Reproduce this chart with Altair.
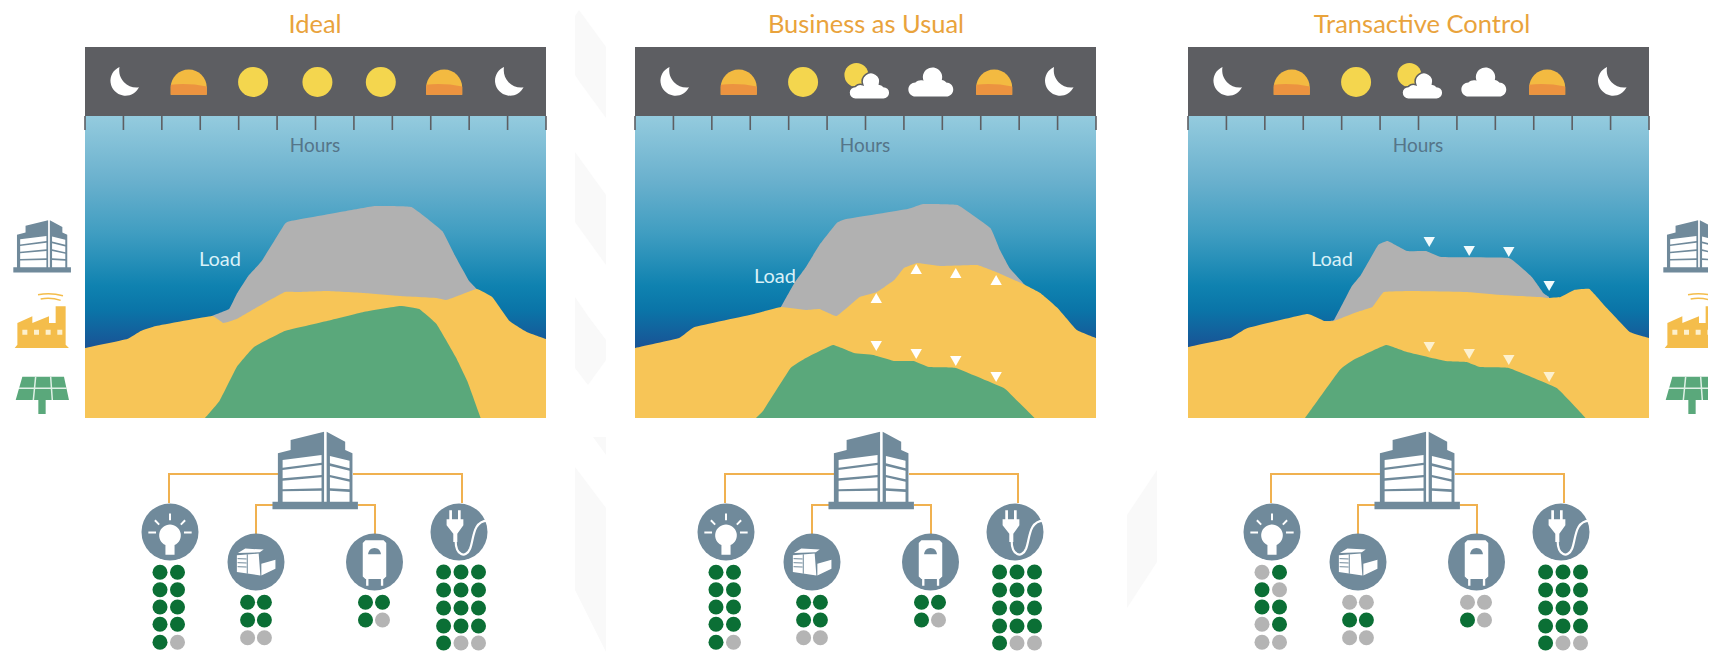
import altair as alt
import pandas as pd

# ---------- values (x in hours, y in load units above the panel floor)
HOURS = [0, 2, 4, 6, 8, 10, 12, 14, 16, 18, 20, 22, 24]
PANELS = ["Ideal", "Business as Usual", "Transactive Control"]
PANEL_LEFT = [85, 635, 1188]
PANEL_W = 461
TITLE_X = [315, 866, 1422]
LOAD_X = [220, 775, 1332]
LOAD_Y = [260, 277, 260]
BOTTOM_SHIFT = [0, 556, 1102]

sup_h = [[0, 2.2, 2.9, 3.7, 6.6, 7.2, 7.9, 8.8, 10.4, 11.1, 12.6, 14.5, 16.4, 18.3, 18.8, 19.4, 20.4, 21.2, 22.1, 23, 24],
         [0, 2.3, 3.1, 6.2, 7.6, 8.9, 9.6, 10.5, 11.7, 12.6, 13.5, 14, 14.7, 15.9, 17.8, 18.8, 20.1, 21.1, 22, 23, 24],
         [0, 2.2, 3.1, 6.2, 7.1, 7.6, 8.8, 9.6, 10.2, 11.7, 14.5, 16.3, 18.3, 18.7, 19.4, 20.1, 20.9, 21.8, 23, 24]]
sup_v = [[70, 79, 87, 92, 102, 95, 99, 109, 126, 126, 127, 125, 122, 120, 118, 122, 129, 121, 97, 86, 79],
         [70, 80, 91, 104, 111, 108, 109, 102, 121, 126, 138, 150, 155, 152, 153, 146, 135, 125, 110, 88, 80],
         [71, 80, 90, 104, 97, 97, 106, 111, 126, 127, 126, 123, 121, 120, 121, 128, 129, 110, 86, 80]]
load_h = [[6.6, 7.5, 7.9, 8.5, 9.2, 10.4, 10.7, 13.6, 15.1, 17, 18.6, 19.3, 20, 20.4],
          [7.6, 8.3, 8.9, 9.6, 10.5, 11, 14.2, 15, 16.8, 18.5, 19, 19.5, 20.3],
          [7.1, 7.6, 8.5, 9, 9.9, 10.4, 11.4, 12.4, 13.2, 16.7, 17.9, 18.5, 18.8]]
load_v = [[102, 109, 124, 142, 157, 194, 197, 207, 212, 211, 187, 161, 137, 129],
          [111, 135, 151, 173, 195, 199, 209, 214, 213, 190, 168, 150, 133],
          [97, 98, 131, 143, 173, 177, 167, 167, 161, 160, 141, 125, 121]]
pv_h = [[6.25, 7, 7.9, 8.8, 10.4, 12.6, 14.5, 16.4, 17.4, 18.3, 19.3, 19.9, 20.6],
        [6.3, 6.7, 8.1, 8.9, 10.3, 11.4, 12.4, 13.5, 14.5, 15.3, 16.7, 19.2, 19.7, 20.8],
        [6.1, 7.9, 8.6, 10.3, 11.4, 13.4, 14.5, 15.2, 16.7, 19.2, 20.7]]
pv_v = [[0, 17, 51, 71, 87, 97, 106, 112, 109, 94, 61, 37, 0],
        [0, 8, 50, 60, 73, 65, 63, 57, 57, 51, 50, 30, 21, 0],
        [0, 48, 58, 73, 66, 57, 56, 51, 50, 30, 0]]

tri_h = [12.56, 14.64, 16.7, 18.8]
tri_up_p2 = [120, 149, 145, 138]
tri_dn_p2 = [72, 64, 57, 41]
tri_top_p3 = [176, 167, 166, 132]
tri_dn_p3 = [71, 64, 58, 41]

SKY_H = [2.03, 5.4, 8.75, 12.1, 15.4, 18.7, 22.05]
SKY_ICONS = [["moon", "half", "sun", "sun", "sun", "half", "moon"],
             ["moon", "half", "sun", "partly", "cloud", "half", "moon"],
             ["moon", "half", "sun", "partly", "cloud", "half", "moon"]]

# device groups: column x, row y, states per row (G on, g off) for each panel
DOT_X = [[160, 177.5], [247.6, 264.4], [365.5, 382.5], [443.6, 461, 478.5]]
DOT_Y = [[572.3, 589.7, 607, 624.3, 642.3], [602.3, 620, 637.7], [602.3, 620], [572, 590, 608, 626, 643]]
DOTS = [[["GG", "GG", "GG", "GG", "Gg"], ["GG", "GG", "gg"], ["GG", "Gg"], ["GGG", "GGG", "GGG", "GGG", "Ggg"]],
        [["GG", "GG", "GG", "GG", "Gg"], ["GG", "GG", "gg"], ["GG", "Gg"], ["GGG", "GGG", "GGG", "GGG", "Ggg"]],
        [["gG", "Gg", "GG", "gG", "gg"], ["gg", "GG", "gg"], ["gg", "Gg"], ["GGG", "GGG", "GGG", "GGG", "Ggg"]]]

STRIPE_X = [[575, 579, 606], [575, 606], [575, 588, 606], [593, 606], [575, 606], [1127, 1157]]
STRIPE_T = [[16, 10, 47], [152, 195], [297, 316, 340], [437, 437], [467, 508], [515, 470]]
STRIPE_B = [[75, 81, 118], [222, 265], [368, 385, 360], [437, 455], [590, 652], [608, 562]]

# ---------- colours
ORANGE = "#e9a33c"; DARK = "#5d5e62"; SLATE = "#708a9b"; GREY = "#b1b1b1"; YEL = "#f7c557"; GRN = "#5aa87b"
DOT_C = {"G": "#0b6f35", "g": "#b4b4b4"}
FLOOR = 418

XS = alt.Scale(domain=[8, 1708], range=[0, 1700], nice=False, zero=False)
YS = alt.Scale(domain=[8, 652], range=[0, 644], nice=False, zero=False)
X = lambda f="x": alt.X(f + ":Q", scale=XS, axis=None)
Y = lambda f="y": alt.Y(f + ":Q", scale=YS, axis=None)


def hx(p, h):
    return PANEL_LEFT[p] + h * PANEL_W / 24


def zp(polys, cx, cy, half):
    out = []
    for poly in polys:
        c = " L".join(f"{(a - cx) / half:.3f},{(b - cy) / half:.3f}" for a, b in poly)
        out.append("M" + c + " Z")
    return " ".join(out)


def icon(path, pts, w, fill=None, stroke=None, sw=0):
    kw = dict(shape=path, size=w * w, opacity=1, filled=fill is not None, strokeWidth=sw)
    if fill:
        kw["fill"] = fill
    if stroke:
        kw["stroke"] = stroke
    df = pd.DataFrame(pts, columns=["x", "y"])
    return alt.Chart(df).mark_point(**kw).encode(x=X(), y=Y())


# ---------- shape paths
MOON = "M-0.3,-1 A1,1 0 1 0 1,0.35 A1.15,1.15 0 0 1 -0.3,-1 Z"
HALF = "M-1,0.71 L-1,0.3 A1,1 0 0 1 1,0.3 L1,0.71 Z"
BAND = "M-1,0.71 L-1,0.15 Q0,0.05 1,0.25 L1,0.71 Z"
CLOUD = ("M-0.7,0.66 A0.32,0.32 0 0 1 -0.7,0.02 A0.36,0.36 0 0 1 -0.33,-0.06 "
         "A0.44,0.44 0 1 1 0.5,-0.09 A0.3,0.3 0 0 1 0.7,0.02 A0.32,0.32 0 0 1 0.7,0.66 Z")

# building drawn on a 2.75 x 3 zoom grid, brought to a square grid
def bpts(q):
    return [((a - 867) / 2.75, (b - 150) / 3) for a, b in q]
BUILD_BODY = zp([bpts([(765, 245), (765, 100), (800, 90), (800, 60), (892, 35), (892, 245)]),
                 bpts([(899, 35), (950, 65), (950, 90), (970, 100), (970, 245), (899, 245)]),
                 bpts([(750, 245), (985, 245), (985, 268), (750, 268)])], 0, 0, 43)
BUILD_WIN = zp([bpts(q) for q in [
    [(778, 120), (885, 105), (885, 128), (778, 143)], [(778, 150), (885, 135), (885, 165), (778, 175)],
    [(778, 182), (885, 172), (885, 205), (778, 208)], [(778, 214), (885, 212), (885, 245), (778, 245)],
    [(908, 108), (962, 122), (962, 145), (908, 130)], [(908, 138), (962, 152), (962, 178), (908, 165)],
    [(908, 172), (962, 185), (962, 208), (908, 205)], [(908, 212), (962, 216), (962, 245), (908, 245)]]], 0, 0, 43)

FAC = (124, 340, 82)
FACTORY = zp([[(42, 415), (50, 405), (50, 340), (95, 320), (95, 340), (145, 320), (145, 340), (165, 340), (165, 290),
               (195, 290), (195, 405), (205, 415)]], *FAC)
FAC_WIN = zp([[(a, 360), (a + 15, 360), (a + 15, 375), (a, 375)] for a in (65, 100, 135, 170)], *FAC)
def nz(x, y, c=FAC):
    return f"{(x - c[0]) / c[2]:.3f},{(y - c[1]) / c[2]:.3f}"
SMOKE = f"M{nz(112, 255)} Q{nz(150, 248)} {nz(187, 258)} M{nz(120, 268)} Q{nz(150, 262)} {nz(180, 272)}"

SOL = (124, 555, 82)
SOLAR = zp([[(65, 500), (190, 500), (205, 570), (45, 570)], [(113, 570), (135, 570), (135, 612), (113, 612)]], *SOL)
SOL_GRID = (f"M{nz(55, 535, SOL)} L{nz(198, 535, SOL)} M{nz(105, 500, SOL)} L{nz(98, 570, SOL)} "
            f"M{nz(150, 500, SOL)} L{nz(155, 570, SOL)}")

BULB = "M-0.16,0.46 A0.38,0.38 0 1 1 0.16,0.46 L0.16,0.8 L-0.16,0.8 Z"
RAYS = "M0,-0.65 L0,-0.41 M-0.53,-0.41 L-0.38,-0.26 M0.53,-0.41 L0.38,-0.26 M-0.76,0.02 L-0.49,0.02 M0.76,0.02 L0.49,0.02"
COP = (92, 95, 85)
COPIER = zp([[(35, 75), (100, 70), (105, 135), (35, 125)], [(108, 100), (150, 88), (150, 115), (108, 135)],
             [(38, 68), (60, 55), (115, 58), (103, 66)]], *COP)
COP_LINES = " ".join(f"M{nz(37, y, COP)} L{nz(64, y + 1, COP)}" for y in (85, 97, 109)) + f" M{nz(66, 72, COP)} L{nz(66, 130, COP)}"
HEA = (447, 95, 85)
HEATER = zp([[(420, 30), (474, 30), (482, 38), (482, 138), (474, 146), (420, 146), (412, 138), (412, 38)],
             [(422, 146), (429, 146), (429, 166), (422, 166)], [(466, 146), (473, 146), (473, 166), (466, 166)]], *HEA)
DOME = f"M{nz(428, 72, HEA)} A0.22,0.22 0 0 1 {nz(466, 72, HEA)} Z"
PLG = (95, 100, 85)
PLUG = zp([[(66, 35), (74, 35), (74, 62), (66, 62)], [(92, 35), (100, 35), (100, 62), (92, 62)],
           [(58, 62), (108, 62), (108, 80), (90, 105), (90, 130), (78, 130), (78, 105), (58, 80)]], *PLG)
CORD = f"M{nz(85, 125, PLG)} C{nz(85, 170, PLG)} {nz(115, 180, PLG)} {nz(128, 150, PLG)} C{nz(140, 120, PLG)} {nz(135, 68, PLG)} {nz(180, 66, PLG)}"

layers = []

# ---------- faint background stripes
rows = []
for i in range(len(STRIPE_X)):
    for x, a, c in zip(STRIPE_X[i], STRIPE_T[i], STRIPE_B[i]):
        rows.append(dict(g=i, x=x, y=a, y2=c))
layers.append(alt.Chart(pd.DataFrame(rows)).mark_area(color="#f9f9f9", opacity=1).encode(
    x=X(), y=Y(), y2="y2:Q", detail="g:N"))

# ---------- panel backgrounds
pan = pd.DataFrame([dict(x=l, x2=l + PANEL_W) for l in PANEL_LEFT])
sky = alt.Gradient(gradient="linear", x1=0, x2=0, y1=0, y2=1, stops=[
    alt.GradientStop(offset=0, color="#94cbde"), alt.GradientStop(offset=0.28, color="#69b0cd"),
    alt.GradientStop(offset=0.5, color="#3f9dc1"), alt.GradientStop(offset=0.72, color="#0f82b0"),
    alt.GradientStop(offset=0.82, color="#0a75a8"), alt.GradientStop(offset=1, color="#1b4f93")])
layers.append(alt.Chart(pan.assign(y=116, y2=352)).mark_rect(color=sky).encode(x=X(), x2="x2:Q", y=Y(), y2="y2:Q"))
layers.append(alt.Chart(pan.assign(y=47, y2=116)).mark_rect(color=DARK).encode(x=X(), x2="x2:Q", y=Y(), y2="y2:Q"))
ticks = pd.DataFrame([dict(x=hx(p, h), y=116, y2=130) for p in range(3) for h in HOURS])
layers.append(alt.Chart(ticks).mark_rule(color=DARK, strokeWidth=1.6).encode(x=X(), y=Y(), y2="y2:Q"))

# ---------- load, supply, generation areas
def area(hs, vs, color):
    df = pd.DataFrame([dict(p=p, x=hx(p, h), y=FLOOR - v, y2=FLOOR) for p in range(3) for h, v in zip(hs[p], vs[p])])
    return alt.Chart(df).mark_area(color=color, opacity=1, interpolate="cardinal", tension=0.75).encode(
        x=X(), y=Y(), y2="y2:Q", detail="p:N")
layers += [area(load_h, load_v, GREY), area(sup_h, sup_v, YEL), area(pv_h, pv_v, GRN)]

# ---------- load-shift triangles
def tri(p, vals, shape, color):
    df = pd.DataFrame([dict(x=hx(p, h), y=FLOOR - v) for h, v in zip(tri_h, vals)])
    return alt.Chart(df).mark_point(shape=shape, filled=True, size=130, color=color, opacity=1, strokeWidth=0).encode(x=X(), y=Y())
layers += [tri(1, tri_up_p2, "triangle-up", "white"), tri(1, tri_dn_p2, "triangle-down", "white"),
           tri(2, tri_top_p3, "triangle-down", "#f2fbfd"), tri(2, tri_dn_p3, "triangle-down", "#fdf1cf")]

# ---------- sky icons
def sky_pts(kind, dy=0, dx=0):
    return [(hx(p, h) + dx, 82 + dy) for p in range(3) for h, k in zip(SKY_H, SKY_ICONS[p]) if k == kind]
layers += [icon(MOON, sky_pts("moon"), 30, fill="white"),
           icon(HALF, sky_pts("half"), 36, fill="#f3ba41"),
           icon(BAND, sky_pts("half"), 36, fill="#ec9340"),
           icon("circle", sky_pts("sun"), 30, fill="#f4d64e"),
           icon("circle", sky_pts("partly", -7, -11), 24, fill="#f4d64e"),
           icon(CLOUD, sky_pts("partly", 4, 2), 40, fill="white", stroke=DARK, sw=1.5),
           icon(CLOUD, sky_pts("cloud"), 44, fill="white")]

# ---------- text
def text(xs, ys, labels, size, color, weight=400):
    df = pd.DataFrame(dict(x=xs, y=ys, t=labels))
    return alt.Chart(df).mark_text(font="Lato", fontSize=size, color=color, fontWeight=weight, baseline="middle", align="center").encode(
        x=X(), y=Y(), text="t:N")
layers += [text(TITLE_X, [25, 25, 25], PANELS, 25.5, ORANGE),
           text([l + 230 for l in PANEL_LEFT], [146, 146, 146], ["Hours"] * 3, 19, "#557589"),
           text(LOAD_X, LOAD_Y, ["Load"] * 3, 20, "#d8f1f8")]

# ---------- side icons
side_x = [42, 1692]
layers += [icon(BUILD_BODY, [(x, 246) for x in side_x], 58, fill=SLATE),
           icon(BUILD_WIN, [(x, 246) for x in side_x], 58, fill="white"),
           icon(FACTORY, [(x, 323) for x in side_x], 54.6, fill="#f4bd4b"),
           icon(FAC_WIN, [(x, 323) for x in side_x], 54.6, fill="#fdf0cc"),
           icon(SMOKE, [(x, 323) for x in side_x], 54.6, stroke="#f4bd4b", sw=1.5),
           icon(SOLAR, [(x, 395) for x in side_x], 54.6, fill=GRN),
           icon(SOL_GRID, [(x, 395) for x in side_x], 54.6, stroke="#dff0e6", sw=1.5)]

# ---------- distribution lines
lines = []
def seg(g, pts):
    for i, (x, y) in enumerate(pts):
        lines.append(dict(g=g, o=i, x=x, y=y))
for s, d in enumerate(BOTTOM_SHIFT):
    seg(f"a{s}", [(d + 278, 474), (d + 169, 474), (d + 169, 503)])
    seg(f"b{s}", [(d + 353, 474), (d + 462, 474), (d + 462, 503)])
    seg(f"c{s}", [(d + 273, 505), (d + 256, 505), (d + 256, 535)])
    seg(f"e{s}", [(d + 358, 505), (d + 375, 505), (d + 375, 535)])
layers.append(alt.Chart(pd.DataFrame(lines)).mark_line(color="#f0b150", strokeWidth=2).encode(
    x=X(), y=Y(), detail="g:N", order="o:Q"))

# ---------- building and devices
layers += [icon(BUILD_BODY, [(315 + d, 470) for d in BOTTOM_SHIFT], 86, fill=SLATE),
           icon(BUILD_WIN, [(315 + d, 470) for d in BOTTOM_SHIFT], 86, fill="white")]
dev = [(170, 532), (256, 562), (374.5, 562), (459, 532)]
layers.append(icon("circle", [(a + d, b) for d in BOTTOM_SHIFT for a, b in dev], 57, fill=SLATE))
def at(i):
    return [(dev[i][0] + d, dev[i][1]) for d in BOTTOM_SHIFT]
layers += [icon(BULB, at(0), 57, fill="white"), icon(RAYS, at(0), 57, stroke="white", sw=2),
           icon(COPIER, at(1), 57, fill="white"), icon(COP_LINES, at(1), 57, stroke=SLATE, sw=1),
           icon(HEATER, at(2), 57, fill="white"), icon(DOME, at(2), 57, fill=SLATE),
           icon(PLUG, at(3), 57, fill="white"), icon(CORD, at(3), 57, stroke="white", sw=2.2)]

# ---------- device status dots
dots = []
for p, d in enumerate(BOTTOM_SHIFT):
    for g in range(4):
        for y, row in zip(DOT_Y[g], DOTS[p][g]):
            for x, st in zip(DOT_X[g], row):
                dots.append(dict(x=x + d, y=y, c=DOT_C[st]))
layers.append(alt.Chart(pd.DataFrame(dots)).mark_circle(size=225, opacity=1).encode(
    x=X(), y=Y(), color=alt.Color("c:N", scale=None)))

chart = alt.layer(*layers).properties(
    width=1700, height=644, padding=0, autosize=alt.AutoSizeParams(type="none"), background="white"
).configure_view(stroke=None)

chart.save("out.html", embed_options={"renderer": "svg", "actions": False})
